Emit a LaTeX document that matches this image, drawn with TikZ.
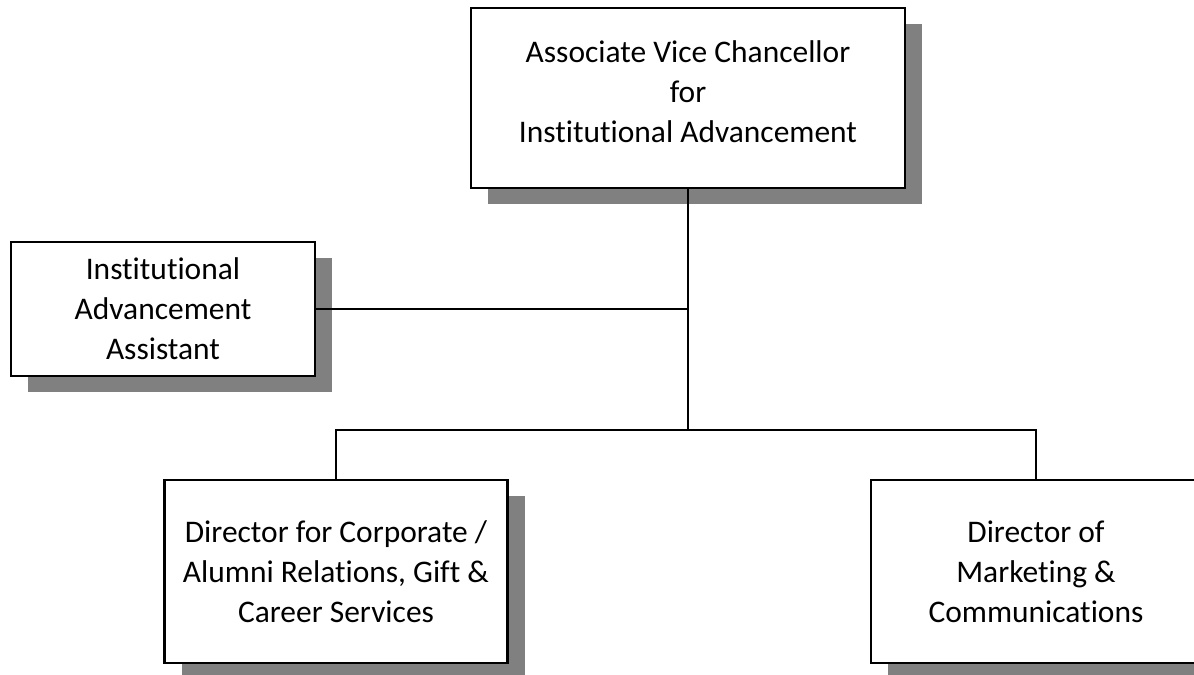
\documentclass[tikz,border=0pt]{standalone}
\usepackage{fontspec}
\setmainfont[Ligatures=NoCommon]{Carlito}
\usetikzlibrary{shadows}
\tikzset{orgbox/.style={draw,fill=white,line width=0.6pt,inner sep=0,align=center,
  font=\fontsize{8.95pt}{11.4pt}\selectfont,
  drop shadow={shadow xshift=0.17cm,shadow yshift=-0.16cm,fill=black!50,opacity=1}}}

\begin{document}
\begin{tikzpicture}[line width=0.6pt]
 \useasboundingbox (0,0) rectangle (11.94,-6.75);
 \node[orgbox,minimum width=4.34cm,minimum height=1.80cm] (avc) at (6.88,-0.98)
   {Associate Vice Chancellor\\for\\Institutional Advancement\\[-0.28cm]};
 \node[orgbox,minimum width=3.04cm,minimum height=1.34cm] (assist) at (1.63,-3.09)
   {Institutional\\Advancement\\Assistant};
 \node[orgbox,minimum width=3.43cm,minimum height=1.83cm] (corp) at (3.36,-5.715)
   {Director for Corporate /\\Alumni Relations, Gift \&\\Career Services};
 \node[orgbox,minimum width=3.30cm,minimum height=1.83cm] (mkt) at (10.36,-5.715)
   {Director of\\Marketing \&\\Communications};
 \coordinate (bus) at (0,-4.30);
 \draw (avc.south) -- (avc.south |- bus);
 \draw (assist.east) -- (assist.east -| avc.south);
 \draw (corp.north) -- (corp.north |- bus) -- (mkt.north |- bus) -- (mkt.north);
\end{tikzpicture}
\end{document}
